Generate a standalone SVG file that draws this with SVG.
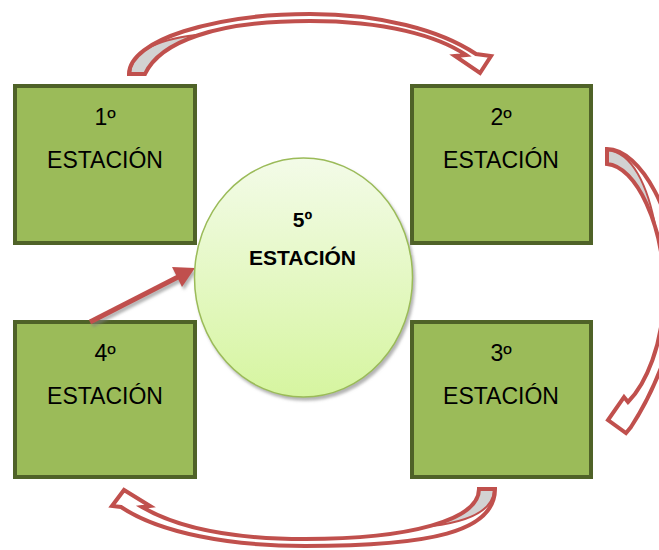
<svg xmlns="http://www.w3.org/2000/svg" xmlns:xlink="http://www.w3.org/1999/xlink" width="659" height="550" viewBox="0 0 659 550">
<style>
.box{fill:#9BBB59;stroke:#4F6228;stroke-width:4}
.lbl{font-family:"Liberation Sans",Arial,sans-serif;font-size:23px;fill:#000;text-anchor:middle}
.lblb{font-family:"Liberation Sans",Arial,sans-serif;font-size:21px;font-weight:bold;fill:#000;text-anchor:middle}
.afill{fill:#fff;stroke:none}
.aline{fill:none;stroke:#C0504D;stroke-width:4;stroke-linejoin:miter}
.gray{fill:#D2D2D2;stroke:none}
.div{fill:none;stroke:#C0504D;stroke-width:2}
</style>
<defs>
<linearGradient id="cg" x1="0" y1="0" x2="0" y2="1">
<stop offset="0" stop-color="#F3FBE8"/>
<stop offset="1" stop-color="#D6F5A0"/>
</linearGradient>
<filter id="sh" x="-20%" y="-20%" width="140%" height="140%">
<feDropShadow dx="2" dy="3" stdDeviation="1.5" flood-color="#808080" flood-opacity="0.6"/>
</filter>
<path id="a1" d="M129,74 C129,40 215,14 310,14 C380,14 440,30 476,54 L491,56 L480,73 L455,56 L466,55 C438,36 385,21 310,21 C215,21 160,42 145,74 Z"/>
<path id="a2" d="M607,149 C640,149 678,215 678,290 C678,340 650,398 631,427 L626,433 L608,420 L624,397 L628,402 C645,385 664,345 664,290 C664,225 636,166 607,164 Z"/>
<path id="a3" d="M121,507 C160,533 230,546 305,546 C430,546 495,532 495,489 L479,489 C479,520 410,539 305,539 C235,539 178,528 142,507 L150,506 L124,490 L112,506 Z"/>
<clipPath id="c1"><use xlink:href="#a1"/></clipPath>
<clipPath id="c2"><use xlink:href="#a2"/></clipPath>
<clipPath id="c3"><use xlink:href="#a3"/></clipPath>
</defs>

<g id="node1">
<rect class="box" x="15" y="86" width="180" height="157"/>
<text class="lbl" x="105" y="125">1º</text>
<text class="lbl" x="105" y="168">ESTACIÓN</text>
</g>
<g id="node2">
<rect class="box" x="412" y="86" width="179" height="157"/>
<text class="lbl" x="501" y="125">2º</text>
<text class="lbl" x="501" y="168">ESTACIÓN</text>
</g>
<g id="node3">
<rect class="box" x="412" y="322" width="179" height="155"/>
<text class="lbl" x="501" y="361">3º</text>
<text class="lbl" x="501" y="404">ESTACIÓN</text>
</g>
<g id="node4">
<rect class="box" x="15" y="322" width="180" height="155"/>
<text class="lbl" x="105" y="361">4º</text>
<text class="lbl" x="105" y="404">ESTACIÓN</text>
</g>

<g id="connectors">
<g id="arrow1-2">
<use xlink:href="#a1" class="afill"/>
<path class="gray" clip-path="url(#c1)" d="M130,74 C131,52 155,40 196,35 L200,50 L150,80 Z"/>
<path class="div" d="M130,74 C131,52 155,40 196,35"/>
<use xlink:href="#a1" class="aline"/>
</g>
<g id="arrow2-3">
<use xlink:href="#a2" class="afill"/>
<path class="gray" clip-path="url(#c2)" d="M607,150 C632,152 648,185 656,230 L640,240 L600,200 L600,150 Z"/>
<path class="div" d="M607,150 C632,152 648,185 656,230"/>
<use xlink:href="#a2" class="aline"/>
</g>
<g id="arrow3-4">
<use xlink:href="#a3" class="afill"/>
<path class="gray" clip-path="url(#c3)" d="M494,490 C493,512 465,522 432,526 L420,500 L480,470 L494,470 Z"/>
<path class="div" d="M494,490 C493,512 465,522 432,526"/>
<use xlink:href="#a3" class="aline"/>
</g>
<g id="arrow4-5" filter="url(#sh)">
<line x1="90" y1="322" x2="180" y2="276" stroke="#C0504D" stroke-width="5"/>
<polygon points="195,268 172,267 182,287" fill="#C0504D"/>
</g>
</g>

<g id="node5">
<ellipse cx="303.5" cy="277.5" rx="109" ry="119.5" fill="url(#cg)" stroke="#9BBB59" stroke-width="1.5" filter="url(#sh)"/>
<text class="lblb" x="302.5" y="227">5º</text>
<text class="lblb" x="302.5" y="265">ESTACIÓN</text>
</g>
</svg>
